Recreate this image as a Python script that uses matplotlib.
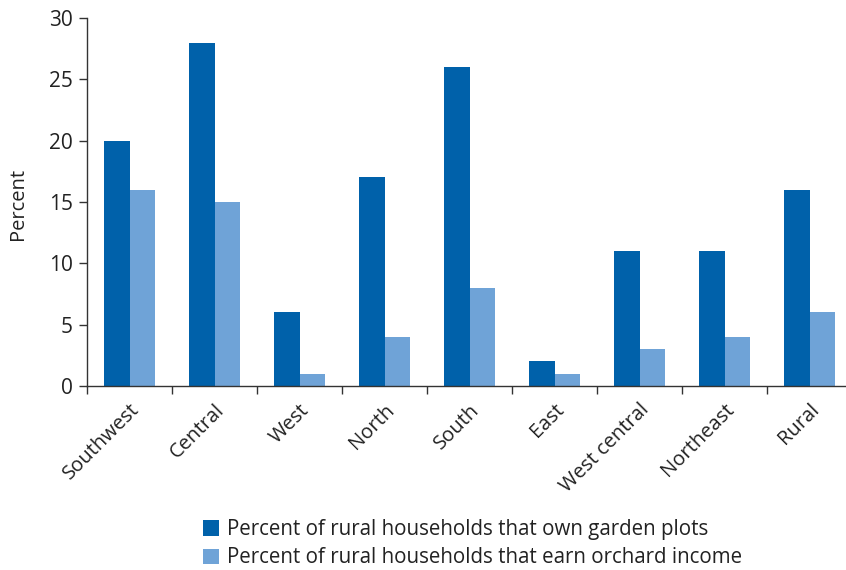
import numpy as np
import matplotlib.pyplot as plt
import matplotlib.transforms as mtransforms

plt.rcParams['font.family'] = ['Open Sans', 'DejaVu Sans']

regions = ['Southwest', 'Central', 'West', 'North', 'South', 'East',
           'West central', 'Northeast', 'Rural']
garden = [20, 28, 6, 17, 26, 2, 11, 11, 16]
orchard = [16, 15, 1, 4, 8, 1, 3, 4, 6]

dark = '#0061AA'
light = '#6FA3D7'
axcol = '#333333'
txtcol = '#222222'

fig = plt.figure(figsize=(8.46, 5.70), dpi=100)
# axis runs a bit past the right edge of the image, as in the original
ax = fig.add_axes([87/846, 184/570, 765/846, 368/570])

x = np.arange(len(regions))
w = 0.295
ax.bar(x - w/2, garden, w, color=dark, label='Percent of rural households that own garden plots')
ax.bar(x + w/2, orchard, w, color=light, label='Percent of rural households that earn orchard income')

ax.set_xlim(-0.5, len(regions) - 0.5)
ax.set_ylim(0, 30)
ax.set_yticks([0, 5, 10, 15, 20, 25, 30])

ax.spines['top'].set_visible(False)
ax.spines['right'].set_visible(False)
for s in ['left', 'bottom']:
    ax.spines[s].set_color(axcol)
    ax.spines[s].set_linewidth(1.0)

ax.set_xticks(x)
ax.set_xticklabels(regions, rotation=45, ha='right', rotation_mode='anchor')
shift = mtransforms.ScaledTranslation(14/100, 0, fig.dpi_scale_trans)
for lab in ax.get_xticklabels():
    lab.set_transform(lab.get_transform() + shift)
ax.set_xticks(np.arange(len(regions) + 1) - 0.5, minor=True)
ax.tick_params(axis='x', which='major', length=0, pad=10, labelsize=14.5, colors=txtcol)
ax.tick_params(axis='x', which='minor', length=6, width=1.0, color=axcol, direction='out')
ax.tick_params(axis='y', length=6, width=1.0, color=axcol, labelsize=15, labelcolor=txtcol, pad=4)

fig.text(18/846, 1 - 204/570, 'Percent', rotation=90, ha='center', va='center',
         fontsize=14.5, color=txtcol)

leg = fig.legend(loc='upper left', bbox_to_anchor=(203/846, 1 - 519/570), frameon=False,
                 fontsize=14.8, handlelength=0.78, handleheight=0.78, handletextpad=0.38,
                 labelspacing=0.36, borderaxespad=0, borderpad=0)
for t in leg.get_texts():
    t.set_color(txtcol)

plt.savefig('out.png', dpi=100)
